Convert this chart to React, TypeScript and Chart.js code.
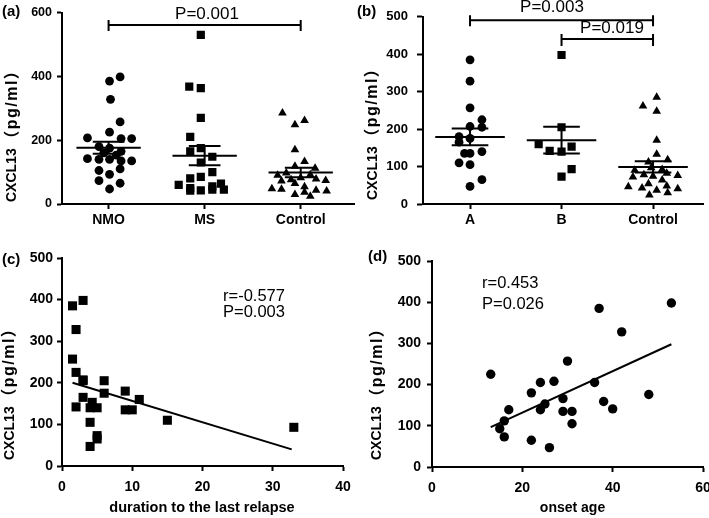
import React, { useEffect, useRef } from "react";
import { Chart, registerables } from "chart.js";
Chart.register(...registerables);

const FONT = '"Liberation Sans", Arial, "Noto Sans CJK SC", sans-serif';
Chart.defaults.font.family = FONT;
Chart.defaults.color = "#000";

// ---------- data ----------
const groupLabelsA = ["NMO", "MS", "Control"];
const groupLabelsB = ["A", "B", "Control"];
const yTitleHead = "CXCL13";
const yTitleTail = "（pg/ml）";

const nmoValues = [398, 385, 328, 257, 225, 207, 205, 205, 180, 175, 165, 160, 153, 142, 140, 140, 135, 135, 110, 105, 93, 73, 65, 47];
const nmoJitter = [0.12, 0.01, 0.02, 0.12, 0.01, -0.22, 0.13, 0.24, -0.1, 0.01, 0.13, -0.05, 0.08, -0.22, -0.1, 0.01, 0.13, 0.24, 0.12, -0.1, 0.01, -0.1, 0.12, 0.01];

const msValues = [530, 368, 363, 270, 210, 175, 165, 148, 130, 100, 85, 80, 64, 60, 55, 50, 45, 45, 43, 42];
const msJitter = [-0.04, -0.16, -0.04, -0.04, -0.15, -0.04, -0.15, 0.08, -0.04, 0.08, -0.04, -0.15, 0.17, -0.27, 0.08, -0.15, 0.2, 0.08, -0.04, -0.15];

const controlValues = [285, 262, 248, 170, 133, 118, 112, 97, 92, 90, 82, 78, 76, 74, 72, 64, 54, 48, 46, 43, 41, 37, 30, 24];
const controlJitterA = [-0.19, 0.04, -0.06, -0.06, 0.04, -0.06, 0.15, -0.15, 0.1, -0.24, 0, 0.16, -0.1, 0.26, -0.2, -0.06, 0.04, -0.3, -0.2, 0.16, 0.27, 0.04, -0.06, 0.1];
const controlJitterB = [0.04, -0.11, 0.04, 0.04, 0.04, 0.16, -0.05, -0.02, 0.1, -0.2, 0.15, -0.1, 0.27, 0, -0.22, 0.1, -0.05, 0.15, -0.27, -0.12, 0.27, 0.04, 0.16, -0.04];

const groupAValues = [385, 328, 257, 225, 207, 205, 180, 175, 165, 140, 135, 135, 110, 105, 65, 47];
const groupAJitter = [0, 0, 0, 0.13, 0, 0.13, -0.12, 0, -0.12, 0.13, 0, -0.06, -0.12, 0, 0.13, 0];
const groupBValues = [398, 205, 160, 153, 142, 140, 93, 73];
const groupBJitter = [0, 0, -0.25, 0.11, -0.13, 0, 0.11, 0];

const durationC = [1.5, 3, 2, 1.5, 2, 3, 6, 6, 9, 3, 11, 4.3, 2, 4, 5, 9, 10, 15, 4, 33, 5, 5, 4, 3];
const valueC = [385, 398, 328, 257, 225, 207, 205, 175, 180, 165, 160, 153, 142, 140, 140, 135, 135, 110, 105, 93, 73, 65, 47, 205];
const fitCx = [1.5, 32.7];
const fitCy = [200, 40];

const ageD = [13, 15, 16, 16, 17, 22, 22, 24, 24, 25, 26, 27, 29, 29, 30, 31, 31, 36, 37, 38, 40, 42, 48, 53];
const valueD = [225, 93, 112, 73, 139, 180, 65, 205, 139, 153, 47, 208, 166, 135, 257, 135, 105, 205, 385, 159, 141, 328, 176, 398];
const fitDx = [13, 53];
const fitDy = [97, 298];

// ---------- helpers ----------
const pts = (center: number, vals: number[], jit: number[]) => vals.map((v, i) => ({ x: center + jit[i], y: v }));
const xy = (xs: number[], ys: number[]) => xs.map((x, i) => ({ x, y: ys[i] }));

const mean = (a: number[]) => a.reduce((s, v) => s + v, 0) / a.length;
const sem = (a: number[]) => {
  const m = mean(a);
  const v = a.reduce((s, x) => s + (x - m) * (x - m), 0) / (a.length - 1);
  return Math.sqrt(v) / Math.sqrt(a.length);
};

function axis(min: number, max: number, step: number, fontSize: number, tickLen: number, pad: number, fit: number, vertical: boolean) {
  return {
    type: "linear",
    min,
    max,
    border: { display: true, color: "#000", width: 2 },
    grid: { drawOnChartArea: false, drawTicks: true, tickLength: tickLen, tickWidth: 2, tickColor: "#000", color: "#000" },
    ticks: { stepSize: step, color: "#000", font: { family: FONT, size: fontSize, weight: "bold" }, padding: pad, maxRotation: 0, autoSkip: false },
    afterFit: (s: any) => {
      if (vertical) s.width = fit;
      else s.height = fit;
    },
  };
}

type TextItem = {
  text: string;
  x: number;
  y: number;
  font: string;
  align?: CanvasTextAlign;
  baseline?: CanvasTextBaseline;
  rotate?: boolean;
  tail?: string;
  tailFont?: string;
  tailSpacing?: number;
};
type Bracket = { from: number; to: number; level: number; up: number; down: number };
type Group = { center: number; values: number[] };

function annotPlugin(texts: TextItem[], brackets: Bracket[], groups: Group[], meanHalf: number, semHalf: number) {
  return {
    id: "annot",
    afterDatasetsDraw(chart: any) {
      const ctx = chart.ctx;
      const xs = chart.scales.x;
      const ys = chart.scales.y;
      ctx.save();
      ctx.strokeStyle = "#000";
      ctx.lineWidth = 2;
      for (const g of groups) {
        const m = mean(g.values);
        const e = sem(g.values);
        const cx = xs.getPixelForValue(g.center);
        const mw = xs.getPixelForValue(g.center + meanHalf) - cx;
        const sw = xs.getPixelForValue(g.center + semHalf) - cx;
        const ym = ys.getPixelForValue(m);
        const yh = ys.getPixelForValue(m + e);
        const yl = ys.getPixelForValue(m - e);
        ctx.beginPath();
        ctx.moveTo(cx - mw, ym);
        ctx.lineTo(cx + mw, ym);
        ctx.moveTo(cx - sw, yh);
        ctx.lineTo(cx + sw, yh);
        ctx.moveTo(cx - sw, yl);
        ctx.lineTo(cx + sw, yl);
        ctx.moveTo(cx, yh);
        ctx.lineTo(cx, yl);
        ctx.stroke();
      }
      ctx.restore();
    },
    afterDraw(chart: any) {
      const ctx = chart.ctx;
      const xs = chart.scales.x;
      const ys = chart.scales.y;
      ctx.save();
      ctx.fillStyle = "#000";
      ctx.strokeStyle = "#000";
      ctx.lineWidth = 2;
      for (const b of brackets) {
        const x1 = xs.getPixelForValue(b.from);
        const x2 = xs.getPixelForValue(b.to);
        const y = ys.getPixelForValue(b.level);
        ctx.beginPath();
        ctx.moveTo(x1, y);
        ctx.lineTo(x2, y);
        ctx.moveTo(x1, y - b.up);
        ctx.lineTo(x1, y + b.down);
        ctx.moveTo(x2, y - b.up);
        ctx.lineTo(x2, y + b.down);
        ctx.stroke();
      }
      for (const t of texts) {
        ctx.save();
        ctx.font = t.font;
        ctx.textAlign = t.align || "left";
        ctx.textBaseline = t.baseline || "alphabetic";
        ctx.translate(t.x, t.y);
        if (t.rotate) ctx.rotate(-Math.PI / 2);
        ctx.fillText(t.text, 0, 0);
        if (t.tail) {
          let pos = ctx.measureText(t.text).width;
          ctx.font = t.tailFont || t.font;
          ctx.textAlign = "left";
          const sp = t.tailSpacing || 0;
          for (const ch of Array.from(t.tail)) {
            pos += sp;
            ctx.fillText(ch, pos, 0);
            pos += ctx.measureText(ch).width;
          }
        }
        ctx.restore();
      }
      ctx.restore();
    },
  };
}

const bold = (s: number) => `bold ${s}px ${FONT}`;
const normal = (s: number) => `${s}px ${FONT}`;

const yTitle = (x: number, y: number): TextItem => ({
  text: yTitleHead,
  x,
  y,
  font: bold(14),
  rotate: true,
  baseline: "middle",
  tail: yTitleTail,
  tailFont: bold(16),
  tailSpacing: 1.5,
});

function baseOptions(padding: any, scales: any) {
  return {
    responsive: false,
    animation: false,
    layout: { padding },
    plugins: { legend: { display: false }, tooltip: { enabled: false } },
    scales,
  };
}

const black = "#000";

function configA() {
  const x: any = axis(0.515, 3.557, 1, 14, 5, 3, 26, false);
  x.afterBuildTicks = (s: any) => {
    s.ticks = [1, 2, 3].map((value) => ({ value }));
  };
  x.ticks.callback = (v: number) => groupLabelsA[Math.round(v) - 1];
  const y: any = axis(0, 600, 200, 12.5, 5, 5, 62, true);
  return {
    type: "scatter",
    data: {
      datasets: [
        { data: pts(1, nmoValues, nmoJitter), pointStyle: "circle", pointRadius: 4.4, backgroundColor: black, borderColor: black, borderWidth: 0 },
        { data: pts(2, msValues, msJitter), pointStyle: "rect", pointRadius: 5.8, backgroundColor: black, borderColor: black, borderWidth: 0 },
        { data: pts(3, controlValues, controlJitterA), pointStyle: "triangle", pointRadius: 5, backgroundColor: black, borderColor: black, borderWidth: 0 },
      ],
    },
    options: baseOptions({ top: 10, right: 3, left: 0, bottom: 0 }, { x, y }),
    plugins: [
      annotPlugin(
        [
          { text: "(a)", x: 2, y: 16, font: bold(15) },
          yTitle(12.5, 202),
          { text: "P=0.001", x: 207, y: 18.5, font: normal(17), align: "center" },
        ],
        [{ from: 1, to: 3, level: 561, up: 5, down: 6 }],
        [
          { center: 1, values: nmoValues },
          { center: 2, values: msValues },
          { center: 3, values: controlValues },
        ],
        0.335,
        0.165
      ),
    ],
  };
}

function configB() {
  const x: any = axis(0.486, 3.546, 1, 14, 5, 3, 26, false);
  x.afterBuildTicks = (s: any) => {
    s.ticks = [1, 2, 3].map((value) => ({ value }));
  };
  x.ticks.callback = (v: number) => groupLabelsB[Math.round(v) - 1];
  const y: any = axis(0, 500, 100, 13, 6, 9, 73, true);
  return {
    type: "scatter",
    data: {
      datasets: [
        { data: pts(1, groupAValues, groupAJitter), pointStyle: "circle", pointRadius: 4.4, backgroundColor: black, borderColor: black, borderWidth: 0 },
        { data: pts(2, groupBValues, groupBJitter), pointStyle: "rect", pointRadius: 5.8, backgroundColor: black, borderColor: black, borderWidth: 0 },
        { data: pts(3, controlValues, controlJitterB), pointStyle: "triangle", pointRadius: 5, backgroundColor: black, borderColor: black, borderWidth: 0 },
      ],
    },
    options: baseOptions({ top: 12, right: 6, left: 0, bottom: 0 }, { x, y }),
    plugins: [
      annotPlugin(
        [
          { text: "(b)", x: 7, y: 16, font: bold(15) },
          yTitle(23, 200),
          { text: "P=0.003", x: 202, y: 12, font: normal(17), align: "center" },
          { text: "P=0.019", x: 262, y: 33, font: normal(17), align: "center" },
        ],
        [
          { from: 1, to: 3, level: 491, up: 5, down: 6 },
          { from: 2, to: 3, level: 441, up: 5, down: 7 },
        ],
        [
          { center: 1, values: groupAValues },
          { center: 2, values: groupBValues },
          { center: 3, values: controlValues },
        ],
        0.38,
        0.2
      ),
    ],
  };
}

function configC() {
  const x: any = axis(0, 40, 10, 14, 5, 7.6, 52, false);
  const y: any = axis(0, 500, 100, 14, 5, 4, 62, true);
  return {
    type: "scatter",
    data: {
      datasets: [
        { data: xy(durationC, valueC), pointStyle: "rect", pointRadius: 6.4, backgroundColor: black, borderColor: black, borderWidth: 0 },
        { type: "line", data: xy(fitCx, fitCy), borderColor: black, borderWidth: 2, pointRadius: 0, fill: false },
      ],
    },
    options: baseOptions({ top: 28, right: 17, left: 0, bottom: 0 }, { x, y }),
    plugins: [
      annotPlugin(
        [
          { text: "(c)", x: 2, y: 34, font: bold(15) },
          yTitle(10, 230),
          { text: "r=-0.577", x: 223, y: 70.7, font: normal(16.5) },
          { text: "P=0.003", x: 223, y: 87.3, font: normal(16.5) },
          { text: "duration to the last relapse", x: 202, y: 278, font: bold(14.5), align: "center", baseline: "middle" },
        ],
        [],
        [],
        0,
        0
      ),
    ],
  };
}

function configD() {
  const x: any = axis(0, 60, 20, 14, 5, 7.6, 51, false);
  const y: any = axis(0, 500, 100, 14, 5, 6, 72, true);
  return {
    type: "scatter",
    data: {
      datasets: [
        { data: xy(ageD, valueD), pointStyle: "circle", pointRadius: 4.7, backgroundColor: black, borderColor: black, borderWidth: 0 },
        { type: "line", data: xy(fitDx, fitDy), borderColor: black, borderWidth: 2, pointRadius: 0, fill: false },
      ],
    },
    options: baseOptions({ top: 31, right: 27, left: 0, bottom: 0 }, { x, y }),
    plugins: [
      annotPlugin(
        [
          { text: "(d)", x: 8, y: 31, font: bold(15) },
          yTitle(17.5, 230),
          { text: "r=0.453", x: 122, y: 58.3, font: normal(16.5) },
          { text: "P=0.026", x: 122, y: 79.3, font: normal(16.5) },
          { text: "onset age", x: 212.5, y: 278, font: bold(14), align: "center", baseline: "middle" },
        ],
        [],
        [],
        0,
        0
      ),
    ],
  };
}

function Panel({ left, top, width, height, make }: { left: number; top: number; width: number; height: number; make: () => any }) {
  const ref = useRef<HTMLCanvasElement | null>(null);
  useEffect(() => {
    if (!ref.current) return;
    const chart = new Chart(ref.current, make());
    return () => chart.destroy();
  }, []);
  return (
    <div style={{ position: "absolute", left, top, width, height }}>
      <canvas ref={ref} width={width} height={height} style={{ width, height, display: "block" }} />
    </div>
  );
}

export default function App() {
  return (
    <div style={{ position: "fixed", left: 0, top: 0, width: 709, height: 518, overflow: "hidden", background: "#fff" }}>
      <Panel left={0} top={0} width={360} height={230} make={configA} />
      <Panel left={350} top={0} width={359} height={230} make={configB} />
      <Panel left={0} top={230} width={360} height={288} make={configC} />
      <Panel left={360} top={230} width={370} height={288} make={configD} />
    </div>
  );
}
